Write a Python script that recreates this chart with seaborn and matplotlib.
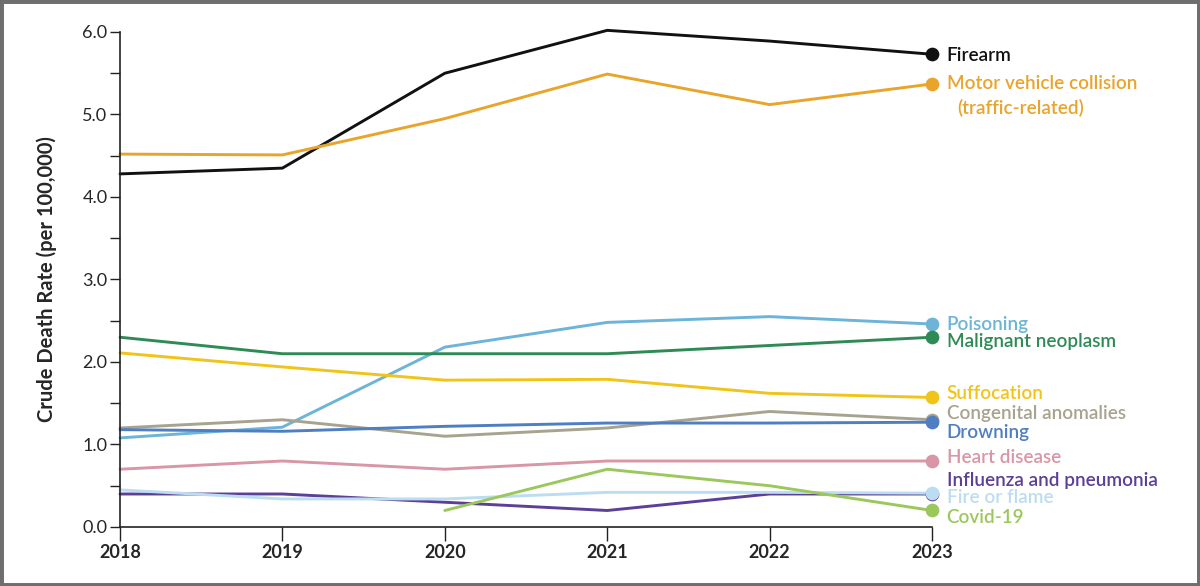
import numpy as np
import pandas as pd
import matplotlib
matplotlib.use("Agg")
import matplotlib.pyplot as plt
import seaborn as sns
from matplotlib.patches import Rectangle
from matplotlib.ticker import MultipleLocator

years = [2018, 2019, 2020, 2021, 2022, 2023]

causes = ["Firearm", "Motor vehicle collision", "Poisoning", "Malignant neoplasm",
          "Suffocation", "Congenital anomalies", "Drowning", "Heart disease",
          "Influenza and pneumonia", "Fire or flame", "Covid-19"]

firearm = [4.28, 4.35, 5.50, 6.02, 5.89, 5.73]
motor_vehicle = [4.52, 4.51, 4.95, 5.49, 5.12, 5.37]
poisoning = [1.08, 1.21, 2.18, 2.48, 2.55, 2.46]
malignant = [2.30, 2.10, 2.10, 2.10, 2.20, 2.30]
suffocation = [2.11, 1.94, 1.78, 1.79, 1.62, 1.57]
congenital = [1.20, 1.30, 1.10, 1.20, 1.40, 1.30]
drowning = [1.18, 1.16, 1.22, 1.26, 1.26, 1.27]
heart = [0.70, 0.80, 0.70, 0.80, 0.80, 0.80]
influenza = [0.40, 0.40, 0.30, 0.20, 0.40, 0.40]
fire = [0.45, 0.34, 0.34, 0.42, 0.42, 0.41]
covid = [np.nan, np.nan, 0.20, 0.70, 0.50, 0.20]

series = [firearm, motor_vehicle, poisoning, malignant, suffocation, congenital,
          drowning, heart, influenza, fire, covid]

colors = ["#111111", "#E9A42B", "#6DB4D8", "#2E8B55", "#F1C419", "#A8A38F",
          "#4F7EC2", "#D896A6", "#5C3F97", "#BCDDF1", "#9BC85C"]

# label text and y position (data units) to the right of the last point
label_text = ["Firearm", "Motor vehicle collision", "Poisoning", "Malignant neoplasm",
              "Suffocation", "Congenital anomalies", "Drowning", "Heart disease",
              "Influenza and pneumonia", "Fire or flame", "Covid-19"]
label_y = [5.72, 5.37, 2.46, 2.25, 1.62, 1.38, 1.15, 0.84, 0.56, 0.36, 0.12]

rows = []
for cause, vals in zip(causes, series):
    for yr, v in zip(years, vals):
        if not np.isnan(v):
            rows.append({"year": yr, "rate": v, "cause": cause})
df = pd.DataFrame(rows)

sns.set_style("white")
plt.rcParams["font.family"] = ["Lato", "DejaVu Sans"]

fig = plt.figure(figsize=(12, 5.86), dpi=100)
ax = fig.add_axes([0.1, 0.1007, 0.6767, 0.8447])

palette = dict(zip(causes, colors))
sns.lineplot(data=df, x="year", y="rate", hue="cause", hue_order=causes,
             palette=palette, linewidth=2.1, legend=False, ax=ax)
for line in ax.lines:
    line.set_clip_on(False)

last = df[df["year"] == years[-1]]
for cause in causes:
    r = last[last["cause"] == cause]
    face = "white" if cause == "Influenza and pneumonia" else palette[cause]
    ax.scatter(r["year"], r["rate"], s=75, color=face, edgecolor=palette[cause],
               linewidth=1.2, zorder=5, clip_on=False)

for txt, ly, c in zip(label_text, label_y, colors):
    ax.text(2023.09, ly, txt, color=c, fontsize=13.6, fontweight="semibold",
            va="center", ha="left")
ax.text(2023.155, 5.08, "(traffic-related)", color=colors[1], fontsize=13.6,
        fontweight="semibold", va="center", ha="left")

ax.set_xlim(2018, 2023)
ax.set_ylim(0, 6)
ax.set_xticks(years)
ax.set_xticklabels([str(y) for y in years], fontsize=13, fontweight="bold")
ax.set_yticks([0, 1, 2, 3, 4, 5, 6])
ax.set_yticklabels([f"{v:.1f}" for v in range(7)], fontsize=13)
ax.yaxis.set_minor_locator(MultipleLocator(0.5))
ax.tick_params(axis="y", which="both", direction="out", length=7, width=1,
               left=True, pad=2, color="#222222")
ax.tick_params(axis="x", direction="out", length=10, width=1, bottom=True,
               pad=2, color="#222222")
ax.set_xlabel("")
ax.set_ylabel("Crude Death Rate (per 100,000)", fontsize=14.5, fontweight="bold",
              labelpad=18)
sns.despine(ax=ax)
for sp in ["left", "bottom"]:
    ax.spines[sp].set_color("#222222")
    ax.spines[sp].set_linewidth(1.2)

fig.patches.append(Rectangle((0, 0), 1, 1, transform=fig.transFigure, fill=False,
                             edgecolor="#6E6E6E", linewidth=5))

fig.savefig("out.png", dpi=100)
